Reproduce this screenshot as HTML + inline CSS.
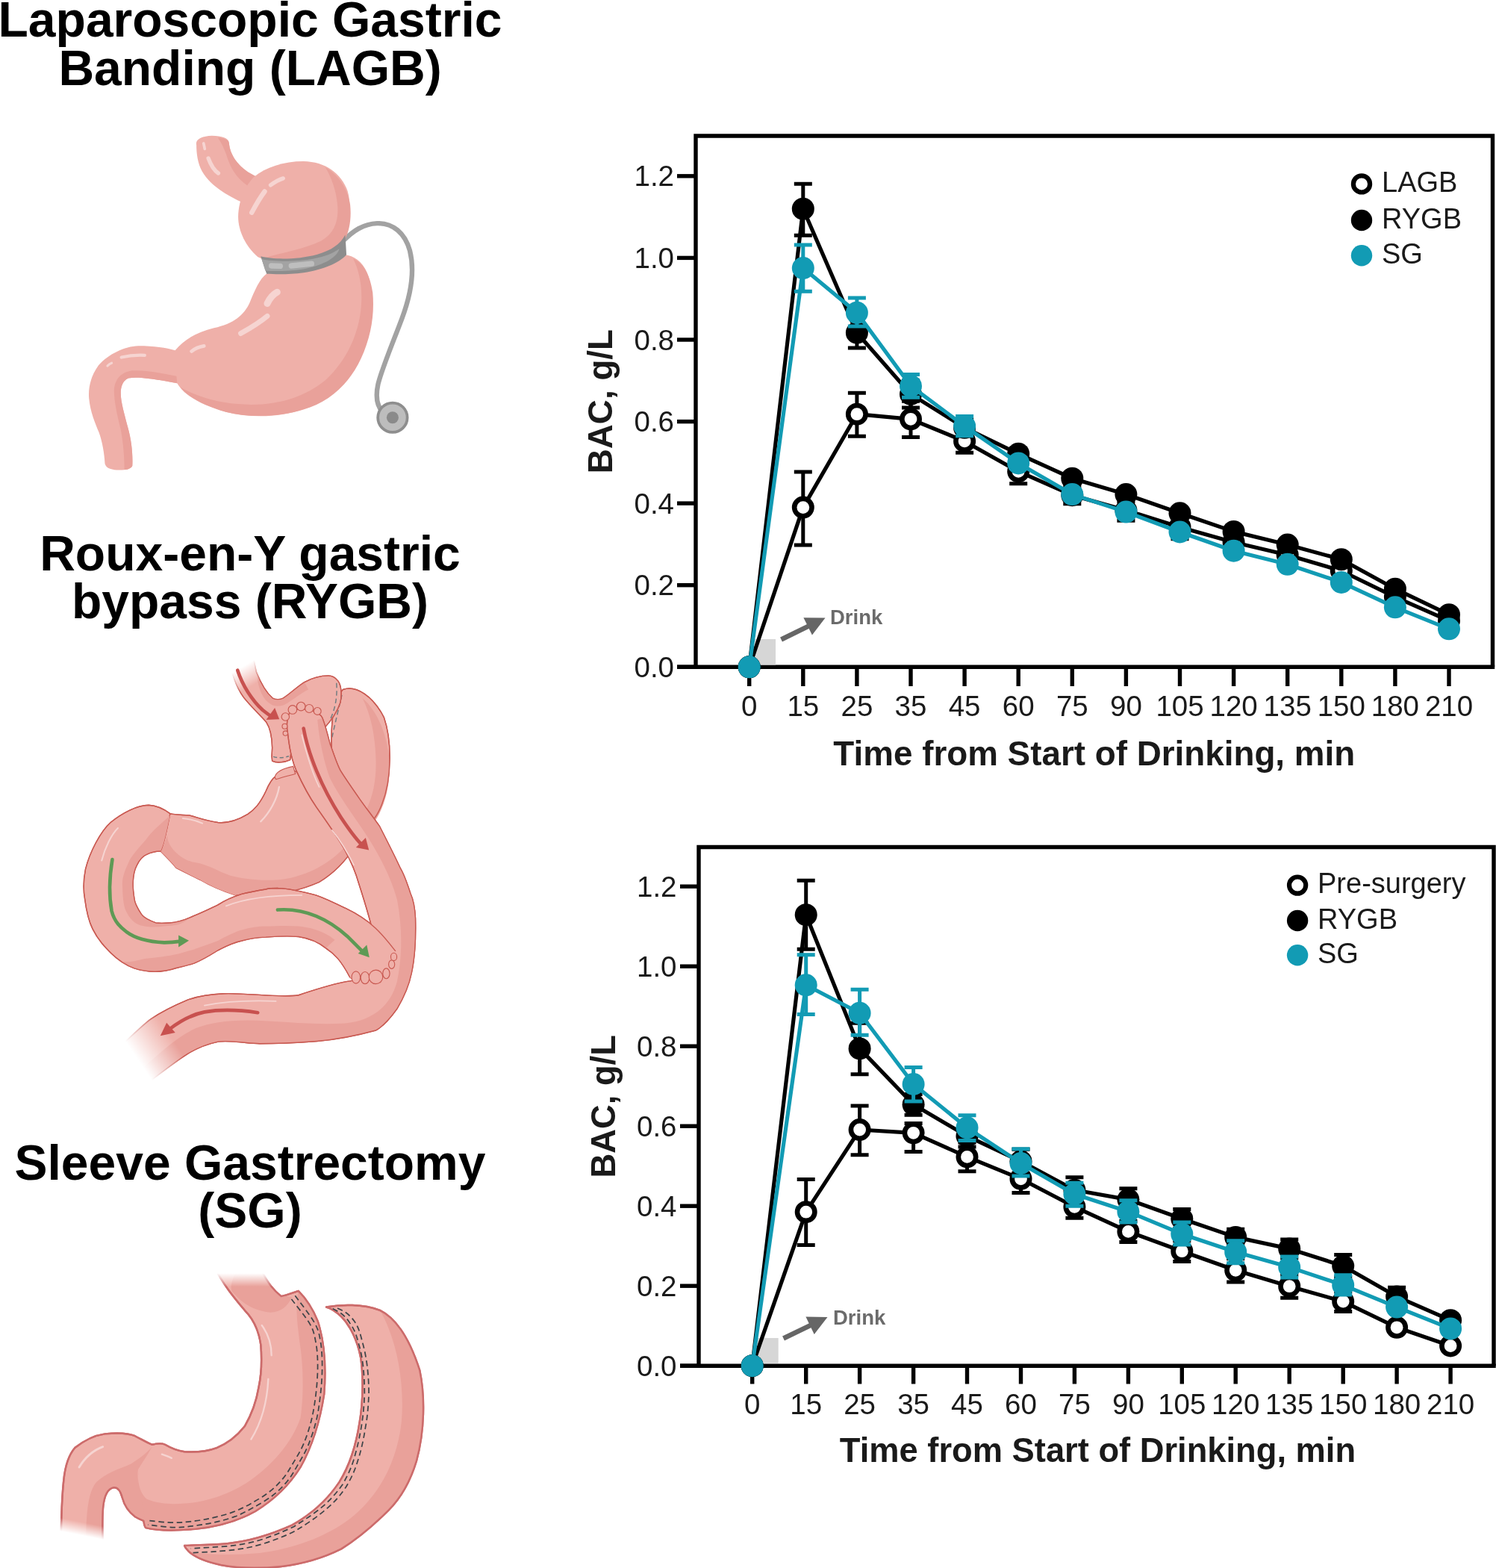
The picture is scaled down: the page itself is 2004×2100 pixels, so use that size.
<!DOCTYPE html>
<html><head><meta charset="utf-8"><title>Bariatric surgery and blood alcohol concentration</title>
<style>
html,body{margin:0;padding:0;background:#fff;}
body{width:2004px;height:2100px;overflow:hidden;}
svg{display:block;}
text{font-family:'Liberation Sans', Arial, Helvetica, sans-serif;}
.tt{font-size:66px;font-weight:700;fill:#000;}
.tk{font-size:38.5px;fill:#1a1a1a;}
.lg{font-size:38px;fill:#1a1a1a;}
.ax{font-size:45.8px;font-weight:700;fill:#1a1a1a;}
.dr{font-size:27.5px;font-weight:700;fill:#6b6b6b;}
</style></head>
<body>
<svg width="2004" height="2100" viewBox="0 0 2004 2100">
<rect width="2004" height="2100" fill="#fff"/>

<text x="335" y="48.6" text-anchor="middle" class="tt">Laparoscopic Gastric</text>
<text x="335" y="113.6" text-anchor="middle" class="tt">Banding (LAGB)</text>
<text x="335" y="763.5" text-anchor="middle" class="tt">Roux-en-Y gastric</text>
<text x="335" y="828" text-anchor="middle" class="tt">bypass (RYGB)</text>
<text x="335" y="1579.5" text-anchor="middle" class="tt">Sleeve Gastrectomy</text>
<text x="335" y="1643.7" text-anchor="middle" class="tt">(SG)</text>

<g id="lagb"><g transform="translate(100 160) scale(0.26652)">
<!-- cable -->
<path d="M1350 610 C1400 560 1450 525 1520 522 C1600 520 1660 570 1685 660 C1710 760 1690 880 1645 1000 C1600 1120 1545 1250 1525 1330 C1510 1400 1520 1450 1560 1480" fill="none" stroke="#a2a2a2" stroke-width="24" stroke-linecap="round"/>
<circle cx="1598" cy="1498" r="74" fill="#bdbdbd" stroke="#8e8e8e" stroke-width="14"/>
<circle cx="1598" cy="1498" r="30" fill="#8a8a8a"/>
<!-- esophagus -->
<path d="M612 128 C605 100 640 84 690 82 C740 82 775 95 776 118 C780 175 820 240 900 280 L940 300 L850 420 C760 380 680 330 640 260 C618 220 612 170 612 128 Z" fill="#efb0a9"/>
<path d="M720 92 C745 92 774 100 776 118 C780 175 820 240 900 280 L920 292 L880 340 C830 310 790 260 770 200 C758 160 740 120 720 92 Z" fill="#e9a19a"/>
<!-- duodenum + lower stomach -->
<path d="M965 775 C930 800 905 860 880 920 C850 985 800 1025 700 1048 C620 1068 555 1100 505 1160 C460 1148 400 1138 320 1138 C250 1140 170 1180 120 1235 C80 1290 68 1350 72 1400 C78 1470 105 1530 122 1572 C138 1615 150 1680 152 1730 C158 1755 190 1762 225 1762 C260 1762 285 1755 290 1740 C293 1680 285 1610 268 1550 C250 1480 232 1420 232 1380 C230 1340 245 1310 270 1300 C320 1290 400 1305 515 1325 C540 1370 620 1425 760 1470 C880 1500 1030 1500 1150 1455 C1290 1395 1400 1270 1460 1110 C1500 990 1505 860 1470 770 C1445 710 1400 685 1360 680 Z" fill="#efb0a9"/>
<!-- darker shading lower stomach right/bottom -->
<path d="M1400 700 C1450 720 1485 780 1498 870 C1508 980 1490 1090 1440 1200 C1380 1330 1280 1420 1150 1458 C1030 1495 880 1500 760 1470 C650 1440 560 1390 530 1345 C600 1385 700 1420 820 1430 C1000 1445 1150 1400 1260 1310 C1370 1210 1430 1070 1440 940 C1448 840 1430 760 1400 700 Z" fill="#e9a19a"/>
<path d="M290 1740 C293 1680 285 1610 268 1550 C250 1480 232 1420 232 1380 C230 1340 245 1310 270 1300 C320 1290 400 1305 515 1325 L512 1290 C420 1270 340 1258 290 1262 C230 1270 200 1310 198 1360 C198 1420 215 1490 232 1560 C245 1630 250 1700 250 1760 C270 1760 285 1752 290 1740 Z" fill="#e9a19a"/>
<!-- bulb -->
<path d="M900 290 C960 240 1050 210 1150 210 C1260 212 1340 270 1372 360 C1392 430 1385 520 1360 590 C1300 670 1200 715 1100 715 C1020 715 960 712 920 690 C860 640 822 560 822 490 C822 420 850 340 900 290 Z" fill="#efb0a9"/>
<path d="M1260 240 C1330 280 1372 350 1385 430 C1392 500 1380 560 1360 600 C1300 675 1200 715 1100 716 C1040 716 980 712 940 700 C1040 670 1160 650 1240 610 C1310 570 1330 500 1320 420 C1312 350 1290 290 1260 240 Z" fill="#e9a19a"/>
<!-- band -->
<path d="M935 688 C1000 705 1120 705 1220 678 C1290 658 1335 628 1360 580 L1366 680 C1330 720 1250 755 1150 770 C1080 780 1010 778 965 776 Z" fill="#8d8d8d"/>
<path d="M940 702 C1000 716 1120 716 1200 700 C1260 688 1300 672 1330 650 C1320 690 1260 730 1150 752 C1080 762 1010 764 958 760 Z" fill="#a3a3a3"/>
<rect x="975" y="722" width="72" height="28" rx="14" fill="#bebebe" transform="rotate(2 1011 736)"/>
<rect x="1075" y="716" width="130" height="28" rx="14" fill="#bebebe" transform="rotate(-6 1140 730)"/>
<!-- highlights -->
<g fill="none" stroke="#f6d4d1" stroke-linecap="round">
<path d="M648 120 L654 148" stroke-width="14"/>
<path d="M672 195 C685 230 700 255 722 270" stroke-width="20"/>
<path d="M985 330 C1005 315 1025 303 1048 296" stroke-width="20"/>
<path d="M890 468 C905 440 930 395 955 362" stroke-width="24"/>
<path d="M968 925 C980 900 995 880 1018 868" stroke-width="34"/>
<path d="M835 1075 C880 1050 930 1020 968 988" stroke-width="26"/>
<path d="M588 1165 C605 1150 625 1142 650 1138" stroke-width="18"/>
<path d="M235 1195 C270 1187 310 1183 352 1185" stroke-width="16"/>
<path d="M165 1238 C172 1230 180 1226 186 1224" stroke-width="12"/>
</g>
</g>
</g>
<g id="rygb"><defs>
<linearGradient id="fadeTop" gradientUnits="userSpaceOnUse" x1="775" y1="45" x2="825" y2="130">
<stop offset="0" stop-color="#fff" stop-opacity="1"/><stop offset="1" stop-color="#fff" stop-opacity="0"/>
</linearGradient>
<linearGradient id="fadeBL" gradientUnits="userSpaceOnUse" x1="285" y1="1850" x2="440" y2="1745">
<stop offset="0" stop-color="#fff" stop-opacity="1"/><stop offset="1" stop-color="#fff" stop-opacity="0"/>
</linearGradient>
</defs>
<g transform="translate(100 880) scale(0.28986)" stroke-linejoin="round">
<!-- fundus remnant -->
<path d="M1240 150 C1300 128 1380 180 1430 280 C1465 380 1468 560 1420 680 C1395 745 1350 800 1300 800 L1200 600 C1180 420 1185 300 1200 230 C1212 185 1225 165 1240 150 Z" fill="#efb0a9" stroke="#c95a52" stroke-width="4.8"/>
<path d="M1330 190 C1400 250 1445 360 1455 480 C1460 600 1430 700 1380 770 L1350 700 C1380 640 1395 560 1392 470 C1388 360 1370 270 1330 190 Z" fill="#e9a19a"/>
<path d="M1235 175 C1222 230 1205 300 1190 370" fill="none" stroke="#6f7c80" stroke-width="5" stroke-dasharray="22 14"/>
<path d="M1240 150 C1300 128 1380 180 1430 280 C1465 380 1468 560 1420 680 C1395 745 1350 800 1300 800 L1200 600 C1180 420 1185 300 1200 230 C1212 185 1225 165 1240 150 Z" fill="none" stroke="#c95a52" stroke-width="4.8"/>
<!-- body -->
<path d="M441 723 C460 728 480 729 530 731 C560 738 600 755 662 764 C700 768 740 762 800 726 C830 705 855 680 883 621 C900 580 915 560 930 550 L1010 520 L1250 700 L1290 880 C1260 930 1210 990 1130 1040 C1050 1075 950 1100 850 1094 C800 1098 770 1100 745 1101 C690 1084 635 1062 579 1029 C540 1010 500 990 469 974 C450 950 430 930 397 897 C415 860 425 800 441 723 Z" fill="#efb0a9" stroke="#c95a52" stroke-width="4.8"/>
<path d="M397 897 C430 930 450 950 469 974 C500 990 540 1010 579 1029 C635 1062 690 1084 745 1101 C770 1100 800 1098 850 1094 C950 1100 1050 1075 1130 1040 C1210 990 1260 930 1290 880 L1270 850 C1210 930 1120 990 1000 1020 C900 1040 800 1030 720 1010 C660 990 620 960 560 950 C500 940 460 900 441 869 C430 850 425 830 430 814 C420 850 410 880 397 897 Z" fill="#e9a19a"/>
<path d="M441 723 C460 728 480 729 530 731 C560 738 600 755 662 764 C700 768 740 762 800 726 C830 705 855 680 883 621 C900 580 915 560 930 550" fill="none" stroke="#c95a52" stroke-width="4.8"/>
<path d="M1290 880 C1260 930 1210 990 1130 1040 C1050 1075 950 1100 850 1094 C800 1098 770 1100 745 1101" fill="none" stroke="#c95a52" stroke-width="4.8"/>
<!-- BP limb / duodenum -->
<path d="M441 723 C410 700 380 686 342 684 C290 684 220 720 166 764 C120 805 70 900 50 980 C40 1030 40 1080 47 1118 C55 1180 70 1230 83 1256 C110 1310 140 1340 166 1366 C200 1400 240 1425 276 1438 C340 1458 400 1460 469 1437 C500 1430 520 1425 552 1415 C600 1395 630 1375 662 1355 C700 1335 740 1318 772 1311 C810 1300 850 1295 883 1294 C940 1290 990 1288 1035 1292 C1090 1300 1130 1320 1161 1345 C1200 1370 1230 1400 1272 1479 C1300 1505 1380 1510 1440 1480 C1480 1450 1495 1400 1483 1359 C1460 1330 1430 1290 1391 1253 C1350 1215 1300 1184 1250 1160 C1200 1135 1150 1112 1115 1100 C1060 1085 1000 1070 940 1068 C900 1068 883 1073 883 1073 C840 1080 800 1088 772 1095 C740 1105 700 1120 662 1145 C620 1165 590 1180 552 1195 C520 1210 480 1225 441 1228 C410 1230 390 1230 375 1228 C340 1215 320 1205 309 1189 C290 1160 278 1140 276 1118 C270 1080 268 1060 270 1035 C272 1000 278 980 287 963 C300 935 315 920 331 913 C350 903 375 897 397 897 C415 860 425 800 441 723 Z" fill="#efb0a9" stroke="#c95a52" stroke-width="4.8"/>
<path d="M441 731 C400 770 360 800 331 842 C290 890 260 920 248 952 C225 1000 218 1030 221 1062 C222 1110 226 1150 237 1173 C255 1210 275 1230 303 1239 C340 1250 380 1248 414 1244 C440 1242 460 1240 480 1236 C520 1220 530 1205 552 1195 C520 1210 480 1225 441 1228 C410 1230 390 1230 375 1228 C340 1215 320 1205 309 1189 C290 1160 278 1140 276 1118 C270 1080 268 1060 270 1035 C272 1000 278 980 287 963 C300 935 315 920 331 913 C350 903 375 897 397 897 C415 860 425 800 441 731 Z" fill="#e9a19a"/>
<path d="M200 1400 C240 1420 290 1400 331 1393 C400 1385 450 1380 497 1366 C560 1350 610 1330 662 1311 C700 1290 740 1270 772 1261 C810 1250 850 1244 883 1244 C940 1242 990 1240 1035 1244 C1090 1250 1130 1262 1180 1290 C1220 1320 1260 1350 1300 1380 L1272 1479 C1230 1400 1200 1370 1161 1345 C1130 1320 1090 1300 1035 1292 C990 1288 940 1290 883 1294 C850 1295 810 1300 772 1311 C740 1318 700 1335 662 1355 C630 1375 600 1395 552 1415 C520 1425 500 1430 469 1437 C400 1460 340 1458 276 1438 C250 1430 225 1418 200 1400 Z" fill="#e9a19a"/>
<path d="M441 723 C410 700 380 686 342 684 C290 684 220 720 166 764 C120 805 70 900 50 980 C40 1030 40 1080 47 1118 C55 1180 70 1230 83 1256 C110 1310 140 1340 166 1366 C200 1400 240 1425 276 1438 C340 1458 400 1460 469 1437 C500 1430 520 1425 552 1415 C600 1395 630 1375 662 1355 C700 1335 740 1318 772 1311 C810 1300 850 1295 883 1294 C940 1290 990 1288 1035 1292 C1090 1300 1130 1320 1161 1345 C1200 1370 1230 1400 1272 1479 C1300 1505 1380 1510 1440 1480 C1480 1450 1495 1400 1483 1359 C1460 1330 1430 1290 1391 1253 C1350 1215 1300 1184 1250 1160 C1200 1135 1150 1112 1115 1100 C1060 1085 1000 1070 940 1068 C900 1068 883 1073 883 1073 C840 1080 800 1088 772 1095 C740 1105 700 1120 662 1145 C620 1165 590 1180 552 1195 C520 1210 480 1225 441 1228 C410 1230 390 1230 375 1228 C340 1215 320 1205 309 1189 C290 1160 278 1140 276 1118 C270 1080 268 1060 270 1035 C272 1000 278 980 287 963 C300 935 315 920 331 913 C350 903 375 897 397 897" fill="none" stroke="#c95a52" stroke-width="4.8"/>
<!-- pouch + esophagus -->
<path d="M690 -90 L712 0 C722 60 740 130 780 185 C815 230 860 270 885 300 C905 330 912 370 913 419 L911 458 C912 470 913 478 913 480 C930 490 970 488 996 475 L1000 440 C1060 400 1110 370 1151 331 C1180 300 1210 265 1228 210 C1236 170 1232 130 1217 110 C1205 95 1190 86 1173 86 C1140 86 1100 95 1062 116 C1030 135 990 175 963 190 C945 198 930 197 915 190 C880 160 860 120 840 70 L825 0 L805 -90 Z" fill="#efb0a9" stroke="#c95a52" stroke-width="4.8"/>
<path d="M840 60 C860 120 880 160 915 190 C930 197 945 198 963 190 C990 175 1030 135 1062 116 L1080 150 C1040 170 1000 205 970 220 C940 232 915 228 895 210 C860 180 845 130 840 60 Z" fill="#e9a19a"/>
<path d="M1210 120 C1215 180 1205 240 1180 290" fill="none" stroke="#6f7c80" stroke-width="5" stroke-dasharray="22 14"/>
<path d="M918 460 C940 468 965 466 990 458" fill="none" stroke="#6f7c80" stroke-width="5" stroke-dasharray="18 12"/>
<path d="M690 -90 L712 0 C722 60 740 130 780 185 C815 230 860 270 885 300 C905 330 912 370 913 419 L911 458 C912 470 913 478 913 480 C930 490 970 488 996 475 L1000 440 C1060 400 1110 370 1151 331 C1180 300 1210 265 1228 210 C1236 170 1232 130 1217 110 C1205 95 1190 86 1173 86 C1140 86 1100 95 1062 116 C1030 135 990 175 963 190 C945 198 930 197 915 190 C880 160 860 120 840 70 L825 0 L805 -90 Z" fill="none" stroke="#c95a52" stroke-width="4.8"/>
<!-- stump of remnant body top -->
<path d="M925 555 C930 530 960 515 1010 505 L1020 540 C990 548 960 555 930 565 Z" fill="#efb0a9" stroke="#c95a52" stroke-width="4"/>
<!-- roux limb + common channel -->
<path id="rouxcc" d="M985 353 C990 400 1000 470 1024 524 C1045 570 1080 640 1118 695 C1150 740 1220 840 1250 894 C1280 950 1300 1000 1313 1046 C1340 1130 1368 1217 1385 1300 C1395 1360 1400 1420 1380 1470 C1340 1485 1300 1492 1272 1497 C1200 1508 1100 1540 1035 1562 C950 1575 780 1550 688 1555 C620 1558 570 1566 520 1585 C460 1610 400 1640 353 1672 C320 1695 280 1734 200 1810 L300 2000 C330 1975 360 1950 387 1930 C420 1905 480 1860 521 1834 C560 1810 600 1790 664 1777 C730 1770 800 1786 855 1786 C950 1786 1050 1780 1120 1775 C1200 1768 1300 1750 1391 1725 C1430 1705 1460 1667 1490 1625 C1520 1575 1545 1520 1557 1460 C1570 1400 1578 1320 1575 1207 C1572 1150 1565 1120 1552 1092 C1535 1040 1520 1000 1506 977 C1480 920 1450 862 1410 783 C1380 740 1349 701 1320 660 C1283 607 1250 560 1228 524 C1210 490 1195 441 1180 400 C1170 360 1160 320 1145 281 C1130 250 1050 226 1000 248 C980 270 978 320 985 353 Z" fill="#efb0a9" stroke="#c95a52" stroke-width="4.8"/>
<path d="M300 2000 C330 1975 360 1950 387 1930 C420 1905 480 1860 521 1834 C560 1810 600 1790 664 1777 C730 1770 800 1786 855 1786 C950 1786 1050 1780 1120 1775 C1200 1768 1300 1750 1391 1725 C1430 1705 1460 1667 1490 1625 C1520 1575 1545 1520 1557 1460 C1570 1400 1578 1320 1575 1207 C1572 1150 1565 1120 1552 1092 C1535 1040 1520 1000 1506 977 C1480 920 1450 862 1410 783 C1380 740 1349 701 1320 660 C1283 607 1250 560 1228 524 C1210 490 1195 441 1180 400 C1170 360 1160 320 1145 281 L1122 290 C1130 380 1150 480 1180 560 C1220 640 1280 720 1340 810 C1400 900 1460 1010 1490 1120 C1515 1250 1515 1380 1490 1500 C1460 1610 1380 1680 1250 1692 C1100 1702 950 1680 800 1678 C700 1678 620 1690 560 1715 C480 1750 400 1820 250 1960 Z" fill="#e9a19a"/>
<path d="M985 353 C990 400 1000 470 1024 524 C1045 570 1080 640 1118 695 C1150 740 1220 840 1250 894 C1280 950 1300 1000 1313 1046 C1340 1130 1368 1217 1385 1300 C1395 1360 1400 1420 1380 1470 C1340 1485 1300 1492 1272 1497 C1200 1508 1100 1540 1035 1562 C950 1575 780 1550 688 1555 C620 1558 570 1566 520 1585 C460 1610 400 1640 353 1672 C320 1695 280 1734 200 1810 L300 2000 C330 1975 360 1950 387 1930 C420 1905 480 1860 521 1834 C560 1810 600 1790 664 1777 C730 1770 800 1786 855 1786 C950 1786 1050 1780 1120 1775 C1200 1768 1300 1750 1391 1725 C1430 1705 1460 1667 1490 1625 C1520 1575 1545 1520 1557 1460 C1570 1400 1578 1320 1575 1207 C1572 1150 1565 1120 1552 1092 C1535 1040 1520 1000 1506 977 C1480 920 1450 862 1410 783 C1380 740 1349 701 1320 660 C1283 607 1250 560 1228 524 C1210 490 1195 441 1180 400 C1170 360 1160 320 1145 281 C1130 250 1050 226 1000 248 C980 270 978 320 985 353 Z" fill="none" stroke="#c95a52" stroke-width="4.8"/>
<path d="M1050 360 C1080 480 1100 540 1130 600" fill="none" stroke="#f6d4d1" stroke-width="6" stroke-linecap="round"/>
<path d="M1190 800 C1230 850 1260 900 1290 960" fill="none" stroke="#f6d4d1" stroke-width="6" stroke-linecap="round"/>
<!-- BP limb end (over roux) -->
<path d="M1161 1345 C1200 1370 1230 1400 1272 1479 C1300 1505 1380 1510 1440 1480 C1480 1450 1495 1400 1483 1359 C1460 1330 1430 1290 1391 1253 C1350 1215 1300 1184 1250 1160 L1220 1290 Z" fill="#efb0a9"/>
<path d="M1272 1479 C1230 1400 1200 1370 1161 1345" fill="none" stroke="#c95a52" stroke-width="4.8"/>
<path d="M1483 1359 C1460 1330 1430 1290 1391 1253 C1350 1215 1300 1184 1250 1160" fill="none" stroke="#c95a52" stroke-width="4.8"/>
<!-- anastomosis bumps -->
<g fill="#efb0a9" stroke="#c95a52" stroke-width="4">
<circle cx="974" cy="276" r="18"/><circle cx="1007" cy="243" r="20"/><circle cx="1046" cy="228" r="20"/><circle cx="1084" cy="238" r="19"/><circle cx="1122" cy="250" r="17"/>
<circle cx="971" cy="320" r="12"/><circle cx="974" cy="352" r="11"/>
<ellipse cx="1300" cy="1480" rx="20" ry="28"/><ellipse cx="1342" cy="1482" rx="20" ry="28"/><circle cx="1392" cy="1478" r="32"/><ellipse cx="1440" cy="1462" rx="16" ry="24"/><ellipse cx="1465" cy="1420" rx="14" ry="20"/><ellipse cx="1475" cy="1385" rx="14" ry="18"/>
</g>
<!-- highlights -->
<g fill="none" stroke="#f6d4d1" stroke-linecap="round">
<path d="M945 600 C935 660 900 720 860 760" stroke-width="8"/>
<path d="M500 745 C530 748 560 755 590 768" stroke-width="7"/>
<path d="M200 790 C170 820 140 880 125 940" stroke-width="7"/>
<path d="M700 1150 C800 1110 920 1100 1050 1100" stroke-width="6"/>
<path d="M600 1610 C700 1590 800 1585 930 1590" stroke-width="6"/>
</g>
<!-- fades -->
<path d="M600 -100 L950 -100 L950 60 L800 230 L600 230 Z" fill="url(#fadeTop)"/>
<path d="M80 1760 L380 1610 L600 1900 L330 2120 Z" fill="url(#fadeBL)"/>
<!-- arrows -->
<g fill="none" stroke-linecap="round">
<path d="M753 61 C775 130 820 200 869 245 C890 262 905 272 915 278" stroke="#c8514f" stroke-width="16"/>
<path d="M1058 330 C1080 450 1140 600 1230 740 C1270 800 1300 840 1325 865" stroke="#c8514f" stroke-width="16"/>
<path d="M846 1643 C760 1630 664 1629 600 1640 C540 1652 490 1680 440 1718" stroke="#c8514f" stroke-width="16"/>
<path d="M174 935 C160 1020 158 1100 171 1173 C185 1230 221 1255 240 1270 C280 1300 330 1315 414 1319 C440 1319 470 1316 490 1313" stroke="#5e9a55" stroke-width="16"/>
<path d="M938 1168 C1050 1160 1160 1200 1260 1290 C1290 1320 1310 1340 1330 1360" stroke="#5e9a55" stroke-width="16"/>
</g>
<g stroke="none">
<path d="M946 287 L885 290 L925 235 Z" fill="#c8514f"/>
<path d="M1360 892 L1300 880 L1345 835 Z" fill="#c8514f"/>
<path d="M396 1750 L425 1690 L465 1735 Z" fill="#c8514f"/>
<path d="M528 1310 L480 1285 L480 1340 Z" fill="#5e9a55"/>
<path d="M1362 1388 L1310 1370 L1350 1330 Z" fill="#5e9a55"/>
</g>
</g>
</g>
<g id="sg"><defs>
<linearGradient id="sgFadeTop" gradientUnits="userSpaceOnUse" x1="0" y1="88" x2="0" y2="150">
<stop offset="0" stop-color="#fff" stop-opacity="1"/><stop offset="1" stop-color="#fff" stop-opacity="0"/>
</linearGradient>
<linearGradient id="sgFadeBot" gradientUnits="userSpaceOnUse" x1="160" y1="1305" x2="172" y2="1245">
<stop offset="0" stop-color="#fff" stop-opacity="1"/><stop offset="1" stop-color="#fff" stop-opacity="0"/>
</linearGradient>
</defs>
<g transform="translate(60 1680) scale(0.28785)" stroke-linejoin="round">
<!-- sleeve -->
<path d="M790 60 C830 140 880 200 930 260 C970 300 995 350 1005 420 C1010 480 1008 560 995 620 C985 680 965 740 930 800 C890 850 850 880 800 900 C760 915 720 922 650 918 C610 912 585 900 560 885 C545 878 530 878 500 885 C480 878 450 860 420 845 C390 832 350 828 280 835 C230 842 180 868 140 900 C110 935 95 980 88 1050 C80 1120 76 1200 75 1380 L270 1380 C268 1300 266 1220 272 1170 C278 1120 295 1090 320 1085 C340 1082 352 1100 360 1130 C368 1160 385 1195 420 1220 C440 1232 455 1238 460 1240 C462 1255 465 1268 470 1272 C520 1285 600 1287 700 1278 C800 1268 900 1240 980 1195 C1070 1140 1140 1070 1190 990 C1240 900 1280 780 1300 650 C1310 520 1300 400 1270 310 C1250 260 1215 205 1180 170 C1150 180 1125 190 1100 195 C1070 170 1040 140 1000 60 Z" fill="#efb0a9" stroke="#cc6b6b" stroke-width="8.5"/>
<!-- sleeve dark shading -->
<path d="M1180 170 C1215 205 1250 260 1270 310 C1300 400 1310 520 1300 650 C1280 780 1240 900 1190 990 C1140 1070 1070 1140 980 1195 C900 1240 800 1268 700 1278 C600 1287 520 1285 470 1272 C465 1268 462 1255 460 1240 C440 1232 420 1220 400 1190 C420 1120 435 1060 435 1014 C430 1050 440 1110 475 1139 C540 1165 600 1162 650 1159 C780 1150 880 1100 938 1064 C1050 990 1150 880 1190 760 C1205 660 1205 520 1185 400 C1175 320 1165 240 1180 170 Z" fill="#e9a19a"/>
<path d="M270 1380 C268 1300 266 1220 272 1170 C278 1120 295 1090 320 1085 C340 1082 352 1100 360 1130 C368 1160 385 1195 420 1220 C440 1232 455 1238 460 1240 C470 1200 450 1150 440 1100 C432 1050 430 1020 435 1000 C460 960 480 930 500 894 C470 930 440 950 400 975 C340 1000 280 1020 240 1060 C200 1110 192 1200 190 1380 Z" fill="#e9a19a"/>
<path d="M870 170 C920 230 970 260 1050 270 C1100 270 1130 240 1150 200 C1120 190 1110 195 1100 195 C1070 170 1040 140 1000 60 L900 60 C880 100 860 140 870 170 Z" fill="#e9a19a"/>
<path d="M790 60 C830 140 880 200 930 260 C970 300 995 350 1005 420 C1010 480 1008 560 995 620 C985 680 965 740 930 800 C890 850 850 880 800 900 C760 915 720 922 650 918 C610 912 585 900 560 885 C545 878 530 878 500 885 C480 878 450 860 420 845 C390 832 350 828 280 835 C230 842 180 868 140 900 C110 935 95 980 88 1050 C80 1120 76 1200 75 1380 L270 1380 C268 1300 266 1220 272 1170 C278 1120 295 1090 320 1085 C340 1082 352 1100 360 1130 C368 1160 385 1195 420 1220 C440 1232 455 1238 460 1240 C462 1255 465 1268 470 1272 C520 1285 600 1287 700 1278 C800 1268 900 1240 980 1195 C1070 1140 1140 1070 1190 990 C1240 900 1280 780 1300 650 C1310 520 1300 400 1270 310 C1250 260 1215 205 1180 170 C1150 180 1125 190 1100 195 C1070 170 1040 140 1000 60 Z" fill="none" stroke="#cc6b6b" stroke-width="8.5"/>
<!-- staple lines sleeve -->
<g fill="none" stroke="#3d4448" stroke-width="6" stroke-dasharray="26 16">
<path d="M1165 192 C1180 213 1235 282 1255 318 C1275 354 1277 371 1283 405 C1289 439 1291 479 1291 520 C1291 561 1288 608 1283 650 C1278 692 1273 735 1263 775 C1253 815 1239 856 1225 890 C1211 924 1193 952 1177 980 C1161 1008 1148 1032 1128 1056 C1108 1080 1086 1102 1060 1122 C1034 1142 999 1162 970 1178 C941 1194 914 1209 884 1220 C854 1231 824 1239 793 1246 C762 1253 732 1258 700 1262 C668 1266 637 1271 600 1270 C563 1269 500 1260 480 1258"/>
<path d="M1148 208 C1162 228 1216 292 1235 326 C1254 360 1256 382 1262 414 C1268 446 1270 481 1270 520 C1270 559 1267 606 1262 647 C1257 688 1251 728 1242 766 C1233 804 1220 844 1206 878 C1192 912 1174 940 1158 967 C1142 994 1129 1018 1110 1041 C1091 1064 1071 1084 1046 1104 C1021 1124 986 1144 958 1160 C930 1176 904 1188 875 1199 C846 1210 816 1217 787 1224 C758 1231 731 1236 700 1240 C669 1244 637 1248 600 1248 C563 1248 500 1240 480 1238"/>
</g>
<!-- excised part -->
<path d="M1310 245 C1380 232 1480 230 1560 260 C1640 300 1700 400 1745 540 C1770 660 1768 820 1730 960 C1700 1060 1650 1140 1600 1190 C1530 1260 1460 1320 1380 1370 C1300 1410 1200 1440 1100 1452 C1000 1462 900 1460 820 1445 C760 1432 700 1410 670 1382 C660 1372 652 1362 650 1355 C700 1352 800 1350 850 1345 C950 1335 1050 1305 1150 1260 C1230 1215 1310 1150 1370 1060 C1420 980 1450 880 1465 780 C1482 680 1482 560 1470 480 C1455 400 1420 330 1380 290 C1360 270 1335 252 1310 245 Z" fill="#efb0a9" stroke="#cc6b6b" stroke-width="8.5"/>
<path d="M1560 260 C1640 300 1700 400 1745 540 C1770 660 1768 820 1730 960 C1700 1060 1650 1140 1600 1190 C1530 1260 1460 1320 1380 1370 C1300 1410 1200 1440 1100 1452 C1000 1462 900 1460 820 1445 C760 1432 700 1410 670 1382 C760 1400 880 1400 1000 1390 C1150 1370 1300 1320 1420 1230 C1560 1120 1640 960 1660 780 C1675 600 1640 400 1560 260 Z" fill="#e9a19a"/>
<path d="M1310 245 C1380 232 1480 230 1560 260 C1640 300 1700 400 1745 540 C1770 660 1768 820 1730 960 C1700 1060 1650 1140 1600 1190 C1530 1260 1460 1320 1380 1370 C1300 1410 1200 1440 1100 1452 C1000 1462 900 1460 820 1445 C760 1432 700 1410 670 1382 C660 1372 652 1362 650 1355 C700 1352 800 1350 850 1345 C950 1335 1050 1305 1150 1260 C1230 1215 1310 1150 1370 1060 C1420 980 1450 880 1465 780 C1482 680 1482 560 1470 480 C1455 400 1420 330 1380 290 C1360 270 1335 252 1310 245 Z" fill="none" stroke="#cc6b6b" stroke-width="8.5"/>
<g fill="none" stroke="#3d4448" stroke-width="6" stroke-dasharray="26 16">
<path d="M1340 252 C1370 268 1395 280 1420 320 C1440 350 1447 364 1462 420 C1480 480 1488 560 1488 650 C1485 720 1480 760 1473 803 C1460 880 1445 930 1437 958 C1420 1010 1400 1045 1385 1072 C1350 1120 1320 1150 1293 1173 C1250 1210 1200 1240 1160 1266 C1110 1290 1060 1310 1005 1328 C950 1345 900 1352 850 1358 C790 1362 730 1366 680 1368"/>
<path d="M1362 250 C1392 265 1410 270 1440 310 C1460 340 1465 357 1480 415 C1498 480 1508 560 1508 650 C1505 720 1500 765 1492 806 C1480 885 1465 935 1455 965 C1438 1020 1418 1055 1400 1085 C1365 1135 1335 1165 1306 1188 C1262 1226 1212 1258 1170 1284 C1120 1310 1068 1330 1010 1348 C955 1365 905 1372 850 1378 C790 1383 735 1386 690 1388"/>
</g>
<!-- highlights -->
<g fill="none" stroke="#f6d4d1" stroke-linecap="round">
<path d="M1010 330 C1040 370 1055 420 1055 470" stroke-width="8"/>
<path d="M1040 580 C1035 680 1010 780 960 860" stroke-width="8"/>
<path d="M270 895 C230 910 190 940 160 990" stroke-width="10"/>
<path d="M545 930 C560 935 575 940 590 948" stroke-width="8"/>
</g>
<!-- fades -->
<path d="M760 40 L1060 40 L1060 200 L760 200 Z" fill="url(#sgFadeTop)"/>
<path d="M40 1180 L320 1180 L320 1420 L40 1420 Z" fill="url(#sgFadeBot)"/>
</g>
</g>
<g id="chart1"><path d="M932 893.3V182H1999.5V893.3" fill="none" stroke="#000" stroke-width="5.4"/>
<path d="M907 893.3H2002.2" stroke="#000" stroke-width="5.6"/>
<path d="M907 893.3H932" stroke="#000" stroke-width="5.4"/>
<text x="903" y="906.8" text-anchor="end" class="tk">0.0</text>
<path d="M907 783.7H932" stroke="#000" stroke-width="5.4"/>
<text x="903" y="797.2" text-anchor="end" class="tk">0.2</text>
<path d="M907 674.1H932" stroke="#000" stroke-width="5.4"/>
<text x="903" y="687.6" text-anchor="end" class="tk">0.4</text>
<path d="M907 564.6H932" stroke="#000" stroke-width="5.4"/>
<text x="903" y="578.1" text-anchor="end" class="tk">0.6</text>
<path d="M907 455H932" stroke="#000" stroke-width="5.4"/>
<text x="903" y="468.5" text-anchor="end" class="tk">0.8</text>
<path d="M907 345.4H932" stroke="#000" stroke-width="5.4"/>
<text x="903" y="358.9" text-anchor="end" class="tk">1.0</text>
<path d="M907 235.8H932" stroke="#000" stroke-width="5.4"/>
<text x="903" y="249.3" text-anchor="end" class="tk">1.2</text>
<path d="M1003.7 893.3V919" stroke="#000" stroke-width="5.4"/>
<text x="1003.7" y="958.5" text-anchor="middle" class="tk">0</text>
<path d="M1075.8 893.3V919" stroke="#000" stroke-width="5.4"/>
<text x="1075.8" y="958.5" text-anchor="middle" class="tk">15</text>
<path d="M1147.9 893.3V919" stroke="#000" stroke-width="5.4"/>
<text x="1147.9" y="958.5" text-anchor="middle" class="tk">25</text>
<path d="M1220 893.3V919" stroke="#000" stroke-width="5.4"/>
<text x="1220" y="958.5" text-anchor="middle" class="tk">35</text>
<path d="M1292.1 893.3V919" stroke="#000" stroke-width="5.4"/>
<text x="1292.1" y="958.5" text-anchor="middle" class="tk">45</text>
<path d="M1364.2 893.3V919" stroke="#000" stroke-width="5.4"/>
<text x="1364.2" y="958.5" text-anchor="middle" class="tk">60</text>
<path d="M1436.3 893.3V919" stroke="#000" stroke-width="5.4"/>
<text x="1436.3" y="958.5" text-anchor="middle" class="tk">75</text>
<path d="M1508.4 893.3V919" stroke="#000" stroke-width="5.4"/>
<text x="1508.4" y="958.5" text-anchor="middle" class="tk">90</text>
<path d="M1580.5 893.3V919" stroke="#000" stroke-width="5.4"/>
<text x="1580.5" y="958.5" text-anchor="middle" class="tk">105</text>
<path d="M1652.6 893.3V919" stroke="#000" stroke-width="5.4"/>
<text x="1652.6" y="958.5" text-anchor="middle" class="tk">120</text>
<path d="M1724.7 893.3V919" stroke="#000" stroke-width="5.4"/>
<text x="1724.7" y="958.5" text-anchor="middle" class="tk">135</text>
<path d="M1796.8 893.3V919" stroke="#000" stroke-width="5.4"/>
<text x="1796.8" y="958.5" text-anchor="middle" class="tk">150</text>
<path d="M1868.9 893.3V919" stroke="#000" stroke-width="5.4"/>
<text x="1868.9" y="958.5" text-anchor="middle" class="tk">180</text>
<path d="M1941 893.3V919" stroke="#000" stroke-width="5.4"/>
<text x="1941" y="958.5" text-anchor="middle" class="tk">210</text>
<text x="1465.8" y="1025.3" text-anchor="middle" class="ax" style="font-size:45.8px">Time from Start of Drinking, min</text>
<text transform="translate(819.8 537.6) rotate(-90)" x="0" y="0" text-anchor="middle" class="ax" style="font-size:45.8px">BAC, g/L</text>
<rect x="1011.3" y="856" width="27.7" height="34.5" fill="#d6d6d6"/>
<path d="M1046.5 856.5L1084 838.1" stroke="#666" stroke-width="6.5"/>
<path d="M1105.5 827.5L1087.9 850.6L1076.4 827.3Z" fill="#666"/>
<text x="1112" y="836.3" class="dr">Drink</text>
<path d="M1075.8 632V730M1063.8 632H1087.8M1063.8 730H1087.8" stroke="#000" stroke-width="5" fill="none"/>
<path d="M1147.9 526.2V584.3M1135.9 526.2H1159.9M1135.9 584.3H1159.9" stroke="#000" stroke-width="5" fill="none"/>
<path d="M1220 537.2V585.4M1208 537.2H1232M1208 585.4H1232" stroke="#000" stroke-width="5" fill="none"/>
<path d="M1292.1 575.5V606.2M1280.1 575.5H1304.1M1280.1 606.2H1304.1" stroke="#000" stroke-width="5" fill="none"/>
<path d="M1364.2 615V647.8M1352.2 615H1376.2M1352.2 647.8H1376.2" stroke="#000" stroke-width="5" fill="none"/>
<path d="M1436.3 651.7V674.7M1424.3 651.7H1448.3M1424.3 674.7H1448.3" stroke="#000" stroke-width="5" fill="none"/>
<path d="M1508.4 671.4V697.2M1496.4 671.4H1520.4M1496.4 697.2H1520.4" stroke="#000" stroke-width="5" fill="none"/>
<path d="M1580.5 693.3V721.8M1568.5 693.3H1592.5M1568.5 721.8H1592.5" stroke="#000" stroke-width="5" fill="none"/>
<path d="M1652.6 715.2V737.1M1640.6 715.2H1664.6M1640.6 737.1H1664.6" stroke="#000" stroke-width="5" fill="none"/>
<path d="M1724.7 732.8V753.6M1712.7 732.8H1736.7M1712.7 753.6H1736.7" stroke="#000" stroke-width="5" fill="none"/>
<path d="M1796.8 755.2V773.9M1784.8 755.2H1808.8M1784.8 773.9H1808.8" stroke="#000" stroke-width="5" fill="none"/>
<path d="M1868.9 792.5V806.7M1856.9 792.5H1880.9M1856.9 806.7H1880.9" stroke="#000" stroke-width="5" fill="none"/>
<path d="M1941 825.9V836.9M1929 825.9H1953M1929 836.9H1953" stroke="#000" stroke-width="5" fill="none"/>
<path d="M1003.7 893.3 L1075.8 679.6 L1147.9 554.7 L1220 561.3 L1292.1 590.9 L1364.2 631.4 L1436.3 663.2 L1508.4 683.5 L1580.5 705.9 L1652.6 726.2 L1724.7 743.2 L1796.8 764.5 L1868.9 799.6 L1941 831.4" fill="none" stroke="#000" stroke-width="5.2" stroke-linejoin="round"/>
<circle cx="1003.7" cy="893.3" r="11.7" fill="#fff" stroke="#000" stroke-width="6.6"/>
<circle cx="1075.8" cy="679.6" r="11.7" fill="#fff" stroke="#000" stroke-width="6.6"/>
<circle cx="1147.9" cy="554.7" r="11.7" fill="#fff" stroke="#000" stroke-width="6.6"/>
<circle cx="1220" cy="561.3" r="11.7" fill="#fff" stroke="#000" stroke-width="6.6"/>
<circle cx="1292.1" cy="590.9" r="11.7" fill="#fff" stroke="#000" stroke-width="6.6"/>
<circle cx="1364.2" cy="631.4" r="11.7" fill="#fff" stroke="#000" stroke-width="6.6"/>
<circle cx="1436.3" cy="663.2" r="11.7" fill="#fff" stroke="#000" stroke-width="6.6"/>
<circle cx="1508.4" cy="683.5" r="11.7" fill="#fff" stroke="#000" stroke-width="6.6"/>
<circle cx="1580.5" cy="705.9" r="11.7" fill="#fff" stroke="#000" stroke-width="6.6"/>
<circle cx="1652.6" cy="726.2" r="11.7" fill="#fff" stroke="#000" stroke-width="6.6"/>
<circle cx="1724.7" cy="743.2" r="11.7" fill="#fff" stroke="#000" stroke-width="6.6"/>
<circle cx="1796.8" cy="764.5" r="11.7" fill="#fff" stroke="#000" stroke-width="6.6"/>
<circle cx="1868.9" cy="799.6" r="11.7" fill="#fff" stroke="#000" stroke-width="6.6"/>
<circle cx="1941" cy="831.4" r="11.7" fill="#fff" stroke="#000" stroke-width="6.6"/>
<path d="M1075.8 246.2V315.3M1063.8 246.2H1087.8M1063.8 315.3H1087.8" stroke="#000" stroke-width="5" fill="none"/>
<path d="M1147.9 424.8V465.9M1135.9 424.8H1159.9M1135.9 465.9H1159.9" stroke="#000" stroke-width="5" fill="none"/>
<path d="M1220 509.8V545.9M1208 509.8H1232M1208 545.9H1232" stroke="#000" stroke-width="5" fill="none"/>
<path d="M1292.1 561.8V583.7M1280.1 561.8H1304.1M1280.1 583.7H1304.1" stroke="#000" stroke-width="5" fill="none"/>
<path d="M1364.2 600.2V615.5M1352.2 600.2H1376.2M1352.2 615.5H1376.2" stroke="#000" stroke-width="5" fill="none"/>
<path d="M1436.3 634.1V647.3M1424.3 634.1H1448.3M1424.3 647.3H1448.3" stroke="#000" stroke-width="5" fill="none"/>
<path d="M1508.4 656.1V668.1M1496.4 656.1H1520.4M1496.4 668.1H1520.4" stroke="#000" stroke-width="5" fill="none"/>
<path d="M1580.5 681.8V692.8M1568.5 681.8H1592.5M1568.5 692.8H1592.5" stroke="#000" stroke-width="5" fill="none"/>
<path d="M1652.6 707V716.9M1640.6 707H1664.6M1640.6 716.9H1664.6" stroke="#000" stroke-width="5" fill="none"/>
<path d="M1724.7 725.1V733.9M1712.7 725.1H1736.7M1712.7 733.9H1736.7" stroke="#000" stroke-width="5" fill="none"/>
<path d="M1796.8 744.8V753.6M1784.8 744.8H1808.8M1784.8 753.6H1808.8" stroke="#000" stroke-width="5" fill="none"/>
<path d="M1868.9 784.8V792.5M1856.9 784.8H1880.9M1856.9 792.5H1880.9" stroke="#000" stroke-width="5" fill="none"/>
<path d="M1941 819.9V826.5M1929 819.9H1953M1929 826.5H1953" stroke="#000" stroke-width="5" fill="none"/>
<path d="M1003.7 893.3 L1075.8 279.7 L1147.9 445.7 L1220 527.9 L1292.1 572.8 L1364.2 607.8 L1436.3 640.7 L1508.4 662.1 L1580.5 687.3 L1652.6 711.9 L1724.7 729.5 L1796.8 749.2 L1868.9 788.7 L1941 823.2" fill="none" stroke="#000" stroke-width="5.2" stroke-linejoin="round"/>
<circle cx="1003.7" cy="893.3" r="15" fill="#000"/>
<circle cx="1075.8" cy="279.7" r="15" fill="#000"/>
<circle cx="1147.9" cy="445.7" r="15" fill="#000"/>
<circle cx="1220" cy="527.9" r="15" fill="#000"/>
<circle cx="1292.1" cy="572.8" r="15" fill="#000"/>
<circle cx="1364.2" cy="607.8" r="15" fill="#000"/>
<circle cx="1436.3" cy="640.7" r="15" fill="#000"/>
<circle cx="1508.4" cy="662.1" r="15" fill="#000"/>
<circle cx="1580.5" cy="687.3" r="15" fill="#000"/>
<circle cx="1652.6" cy="711.9" r="15" fill="#000"/>
<circle cx="1724.7" cy="729.5" r="15" fill="#000"/>
<circle cx="1796.8" cy="749.2" r="15" fill="#000"/>
<circle cx="1868.9" cy="788.7" r="15" fill="#000"/>
<circle cx="1941" cy="823.2" r="15" fill="#000"/>
<path d="M1075.8 327.9V390.3M1063.8 327.9H1087.8M1063.8 390.3H1087.8" stroke="#129bb4" stroke-width="5" fill="none"/>
<path d="M1147.9 399.1V436.9M1135.9 399.1H1159.9M1135.9 436.9H1159.9" stroke="#129bb4" stroke-width="5" fill="none"/>
<path d="M1220 501.6V532.2M1208 501.6H1232M1208 532.2H1232" stroke="#129bb4" stroke-width="5" fill="none"/>
<path d="M1292.1 557.4V583.7M1280.1 557.4H1304.1M1280.1 583.7H1304.1" stroke="#129bb4" stroke-width="5" fill="none"/>
<path d="M1364.2 613.3V627.6M1352.2 613.3H1376.2M1352.2 627.6H1376.2" stroke="#129bb4" stroke-width="5" fill="none"/>
<path d="M1436.3 655.5V668.7M1424.3 655.5H1448.3M1424.3 668.7H1448.3" stroke="#129bb4" stroke-width="5" fill="none"/>
<path d="M1508.4 679.6V691.7M1496.4 679.6H1520.4M1496.4 691.7H1520.4" stroke="#129bb4" stroke-width="5" fill="none"/>
<path d="M1580.5 707V718M1568.5 707H1592.5M1568.5 718H1592.5" stroke="#129bb4" stroke-width="5" fill="none"/>
<path d="M1652.6 732.8V742.6M1640.6 732.8H1664.6M1640.6 742.6H1664.6" stroke="#129bb4" stroke-width="5" fill="none"/>
<path d="M1724.7 751.4V760.2M1712.7 751.4H1736.7M1712.7 760.2H1736.7" stroke="#129bb4" stroke-width="5" fill="none"/>
<path d="M1796.8 775.5V784.3M1784.8 775.5H1808.8M1784.8 784.3H1808.8" stroke="#129bb4" stroke-width="5" fill="none"/>
<path d="M1868.9 809.5V817.1M1856.9 809.5H1880.9M1856.9 817.1H1880.9" stroke="#129bb4" stroke-width="5" fill="none"/>
<path d="M1941 839.1V845.6M1929 839.1H1953M1929 845.6H1953" stroke="#129bb4" stroke-width="5" fill="none"/>
<path d="M1003.7 893.3 L1075.8 359.1 L1147.9 418.8 L1220 516.9 L1292.1 570.6 L1364.2 620.4 L1436.3 662.1 L1508.4 685.6 L1580.5 712.5 L1652.6 737.7 L1724.7 755.8 L1796.8 779.9 L1868.9 813.3 L1941 842.3" fill="none" stroke="#129bb4" stroke-width="5.2" stroke-linejoin="round"/>
<circle cx="1003.7" cy="893.3" r="15" fill="#129bb4"/>
<circle cx="1075.8" cy="359.1" r="15" fill="#129bb4"/>
<circle cx="1147.9" cy="418.8" r="15" fill="#129bb4"/>
<circle cx="1220" cy="516.9" r="15" fill="#129bb4"/>
<circle cx="1292.1" cy="570.6" r="15" fill="#129bb4"/>
<circle cx="1364.2" cy="620.4" r="15" fill="#129bb4"/>
<circle cx="1436.3" cy="662.1" r="15" fill="#129bb4"/>
<circle cx="1508.4" cy="685.6" r="15" fill="#129bb4"/>
<circle cx="1580.5" cy="712.5" r="15" fill="#129bb4"/>
<circle cx="1652.6" cy="737.7" r="15" fill="#129bb4"/>
<circle cx="1724.7" cy="755.8" r="15" fill="#129bb4"/>
<circle cx="1796.8" cy="779.9" r="15" fill="#129bb4"/>
<circle cx="1868.9" cy="813.3" r="15" fill="#129bb4"/>
<circle cx="1941" cy="842.3" r="15" fill="#129bb4"/>
<circle cx="1824" cy="246.4" r="11.1" fill="#fff" stroke="#000" stroke-width="6.2"/>
<text x="1851" y="256.9" class="lg">LAGB</text>
<circle cx="1824" cy="295" r="14.2" fill="#000"/>
<text x="1851" y="305.5" class="lg">RYGB</text>
<circle cx="1824" cy="342.3" r="14.2" fill="#129bb4"/>
<text x="1851" y="352.8" class="lg">SG</text></g>
<g id="chart2"><path d="M936 1829.2V1134.5H2001V1829.2" fill="none" stroke="#000" stroke-width="5.4"/>
<path d="M911 1829.2H2003.7" stroke="#000" stroke-width="5.6"/>
<path d="M911 1829.2H936" stroke="#000" stroke-width="5.4"/>
<text x="906.5" y="1842.7" text-anchor="end" class="tk">0.0</text>
<path d="M911 1722.2H936" stroke="#000" stroke-width="5.4"/>
<text x="906.5" y="1735.7" text-anchor="end" class="tk">0.2</text>
<path d="M911 1615.2H936" stroke="#000" stroke-width="5.4"/>
<text x="906.5" y="1628.7" text-anchor="end" class="tk">0.4</text>
<path d="M911 1508.2H936" stroke="#000" stroke-width="5.4"/>
<text x="906.5" y="1521.7" text-anchor="end" class="tk">0.6</text>
<path d="M911 1401.2H936" stroke="#000" stroke-width="5.4"/>
<text x="906.5" y="1414.7" text-anchor="end" class="tk">0.8</text>
<path d="M911 1294.2H936" stroke="#000" stroke-width="5.4"/>
<text x="906.5" y="1307.7" text-anchor="end" class="tk">1.0</text>
<path d="M911 1187.2H936" stroke="#000" stroke-width="5.4"/>
<text x="906.5" y="1200.7" text-anchor="end" class="tk">1.2</text>
<path d="M1007.7 1829.2V1853.5" stroke="#000" stroke-width="5.4"/>
<text x="1007.7" y="1893.5" text-anchor="middle" class="tk">0</text>
<path d="M1079.7 1829.2V1853.5" stroke="#000" stroke-width="5.4"/>
<text x="1079.7" y="1893.5" text-anchor="middle" class="tk">15</text>
<path d="M1151.6 1829.2V1853.5" stroke="#000" stroke-width="5.4"/>
<text x="1151.6" y="1893.5" text-anchor="middle" class="tk">25</text>
<path d="M1223.6 1829.2V1853.5" stroke="#000" stroke-width="5.4"/>
<text x="1223.6" y="1893.5" text-anchor="middle" class="tk">35</text>
<path d="M1295.5 1829.2V1853.5" stroke="#000" stroke-width="5.4"/>
<text x="1295.5" y="1893.5" text-anchor="middle" class="tk">45</text>
<path d="M1367.5 1829.2V1853.5" stroke="#000" stroke-width="5.4"/>
<text x="1367.5" y="1893.5" text-anchor="middle" class="tk">60</text>
<path d="M1439.4 1829.2V1853.5" stroke="#000" stroke-width="5.4"/>
<text x="1439.4" y="1893.5" text-anchor="middle" class="tk">75</text>
<path d="M1511.4 1829.2V1853.5" stroke="#000" stroke-width="5.4"/>
<text x="1511.4" y="1893.5" text-anchor="middle" class="tk">90</text>
<path d="M1583.3 1829.2V1853.5" stroke="#000" stroke-width="5.4"/>
<text x="1583.3" y="1893.5" text-anchor="middle" class="tk">105</text>
<path d="M1655.2 1829.2V1853.5" stroke="#000" stroke-width="5.4"/>
<text x="1655.2" y="1893.5" text-anchor="middle" class="tk">120</text>
<path d="M1727.2 1829.2V1853.5" stroke="#000" stroke-width="5.4"/>
<text x="1727.2" y="1893.5" text-anchor="middle" class="tk">135</text>
<path d="M1799.2 1829.2V1853.5" stroke="#000" stroke-width="5.4"/>
<text x="1799.2" y="1893.5" text-anchor="middle" class="tk">150</text>
<path d="M1871.1 1829.2V1853.5" stroke="#000" stroke-width="5.4"/>
<text x="1871.1" y="1893.5" text-anchor="middle" class="tk">180</text>
<path d="M1943.1 1829.2V1853.5" stroke="#000" stroke-width="5.4"/>
<text x="1943.1" y="1893.5" text-anchor="middle" class="tk">210</text>
<text x="1470.5" y="1958.2" text-anchor="middle" class="ax" style="font-size:45.3px">Time from Start of Drinking, min</text>
<text transform="translate(824 1481.8) rotate(-90)" x="0" y="0" text-anchor="middle" class="ax" style="font-size:45.3px">BAC, g/L</text>
<rect x="1014.5" y="1792" width="28.2" height="33.8" fill="#d6d6d6"/>
<path d="M1049.5 1792.5L1086.9 1774.4" stroke="#666" stroke-width="6.5"/>
<path d="M1108.5 1764L1090.7 1787L1079.4 1763.6Z" fill="#666"/>
<text x="1116" y="1773.6" class="dr">Drink</text>
<path d="M1079.7 1579.4V1667.6M1067.7 1579.4H1091.7M1067.7 1667.6H1091.7" stroke="#000" stroke-width="5" fill="none"/>
<path d="M1151.6 1480.9V1546.7M1139.6 1480.9H1163.6M1139.6 1546.7H1163.6" stroke="#000" stroke-width="5" fill="none"/>
<path d="M1223.6 1504.5V1542.4M1211.6 1504.5H1235.6M1211.6 1542.4H1235.6" stroke="#000" stroke-width="5" fill="none"/>
<path d="M1295.5 1530.1V1568.7M1283.5 1530.1H1307.5M1283.5 1568.7H1307.5" stroke="#000" stroke-width="5" fill="none"/>
<path d="M1367.5 1560.1V1597.5M1355.5 1560.1H1379.5M1355.5 1597.5H1379.5" stroke="#000" stroke-width="5" fill="none"/>
<path d="M1439.4 1601.3V1631.2M1427.4 1601.3H1451.4M1427.4 1631.2H1451.4" stroke="#000" stroke-width="5" fill="none"/>
<path d="M1511.4 1635.5V1663.4M1499.4 1635.5H1523.4M1499.4 1663.4H1523.4" stroke="#000" stroke-width="5" fill="none"/>
<path d="M1583.3 1661.7V1689.6M1571.3 1661.7H1595.3M1571.3 1689.6H1595.3" stroke="#000" stroke-width="5" fill="none"/>
<path d="M1655.2 1685.8V1716.9M1643.2 1685.8H1667.2M1643.2 1716.9H1667.2" stroke="#000" stroke-width="5" fill="none"/>
<path d="M1727.2 1707.2V1738.2M1715.2 1707.2H1739.2M1715.2 1738.2H1739.2" stroke="#000" stroke-width="5" fill="none"/>
<path d="M1799.2 1729.7V1756.4M1787.2 1729.7H1811.2M1787.2 1756.4H1811.2" stroke="#000" stroke-width="5" fill="none"/>
<path d="M1871.1 1771.4V1784.3M1859.1 1771.4H1883.1M1859.1 1784.3H1883.1" stroke="#000" stroke-width="5" fill="none"/>
<path d="M1943.1 1798.2V1806.7M1931.1 1798.2H1955.1M1931.1 1806.7H1955.1" stroke="#000" stroke-width="5" fill="none"/>
<path d="M1007.7 1829.2 L1079.7 1623.2 L1151.6 1513 L1223.6 1517.3 L1295.5 1549.4 L1367.5 1578.8 L1439.4 1616.3 L1511.4 1649.4 L1583.3 1675.7 L1655.2 1701.3 L1727.2 1722.7 L1799.2 1743.1 L1871.1 1777.8 L1943.1 1802.5" fill="none" stroke="#000" stroke-width="5.2" stroke-linejoin="round"/>
<circle cx="1007.7" cy="1829.2" r="11.7" fill="#fff" stroke="#000" stroke-width="6.6"/>
<circle cx="1079.7" cy="1623.2" r="11.7" fill="#fff" stroke="#000" stroke-width="6.6"/>
<circle cx="1151.6" cy="1513" r="11.7" fill="#fff" stroke="#000" stroke-width="6.6"/>
<circle cx="1223.6" cy="1517.3" r="11.7" fill="#fff" stroke="#000" stroke-width="6.6"/>
<circle cx="1295.5" cy="1549.4" r="11.7" fill="#fff" stroke="#000" stroke-width="6.6"/>
<circle cx="1367.5" cy="1578.8" r="11.7" fill="#fff" stroke="#000" stroke-width="6.6"/>
<circle cx="1439.4" cy="1616.3" r="11.7" fill="#fff" stroke="#000" stroke-width="6.6"/>
<circle cx="1511.4" cy="1649.4" r="11.7" fill="#fff" stroke="#000" stroke-width="6.6"/>
<circle cx="1583.3" cy="1675.7" r="11.7" fill="#fff" stroke="#000" stroke-width="6.6"/>
<circle cx="1655.2" cy="1701.3" r="11.7" fill="#fff" stroke="#000" stroke-width="6.6"/>
<circle cx="1727.2" cy="1722.7" r="11.7" fill="#fff" stroke="#000" stroke-width="6.6"/>
<circle cx="1799.2" cy="1743.1" r="11.7" fill="#fff" stroke="#000" stroke-width="6.6"/>
<circle cx="1871.1" cy="1777.8" r="11.7" fill="#fff" stroke="#000" stroke-width="6.6"/>
<circle cx="1943.1" cy="1802.5" r="11.7" fill="#fff" stroke="#000" stroke-width="6.6"/>
<path d="M1079.7 1179.2V1271.2M1067.7 1179.2H1091.7M1067.7 1271.2H1091.7" stroke="#000" stroke-width="5" fill="none"/>
<path d="M1151.6 1370.2V1438.7M1139.6 1370.2H1163.6M1139.6 1438.7H1163.6" stroke="#000" stroke-width="5" fill="none"/>
<path d="M1223.6 1465.4V1493.2M1211.6 1465.4H1235.6M1211.6 1493.2H1235.6" stroke="#000" stroke-width="5" fill="none"/>
<path d="M1295.5 1507.1V1536M1283.5 1507.1H1307.5M1283.5 1536H1307.5" stroke="#000" stroke-width="5" fill="none"/>
<path d="M1367.5 1539.2V1571.3M1355.5 1539.2H1379.5M1355.5 1571.3H1379.5" stroke="#000" stroke-width="5" fill="none"/>
<path d="M1439.4 1576.7V1610.9M1427.4 1576.7H1451.4M1427.4 1610.9H1451.4" stroke="#000" stroke-width="5" fill="none"/>
<path d="M1511.4 1591.7V1621.6M1499.4 1591.7H1523.4M1499.4 1621.6H1523.4" stroke="#000" stroke-width="5" fill="none"/>
<path d="M1583.3 1619.5V1645.2M1571.3 1619.5H1595.3M1571.3 1645.2H1595.3" stroke="#000" stroke-width="5" fill="none"/>
<path d="M1655.2 1646.2V1667.6M1643.2 1646.2H1667.2M1643.2 1667.6H1667.2" stroke="#000" stroke-width="5" fill="none"/>
<path d="M1727.2 1660.1V1684.8M1715.2 1660.1H1739.2M1715.2 1684.8H1739.2" stroke="#000" stroke-width="5" fill="none"/>
<path d="M1799.2 1680.5V1710.4M1787.2 1680.5H1811.2M1787.2 1710.4H1811.2" stroke="#000" stroke-width="5" fill="none"/>
<path d="M1871.1 1724.3V1749M1859.1 1724.3H1883.1M1859.1 1749H1883.1" stroke="#000" stroke-width="5" fill="none"/>
<path d="M1943.1 1762.9V1773.6M1931.1 1762.9H1955.1M1931.1 1773.6H1955.1" stroke="#000" stroke-width="5" fill="none"/>
<path d="M1007.7 1829.2 L1079.7 1225.2 L1151.6 1404.4 L1223.6 1479.3 L1295.5 1521.6 L1367.5 1555.3 L1439.4 1593.8 L1511.4 1606.6 L1583.3 1632.3 L1655.2 1656.9 L1727.2 1672.4 L1799.2 1695.5 L1871.1 1736.6 L1943.1 1768.2" fill="none" stroke="#000" stroke-width="5.2" stroke-linejoin="round"/>
<circle cx="1007.7" cy="1829.2" r="15" fill="#000"/>
<circle cx="1079.7" cy="1225.2" r="15" fill="#000"/>
<circle cx="1151.6" cy="1404.4" r="15" fill="#000"/>
<circle cx="1223.6" cy="1479.3" r="15" fill="#000"/>
<circle cx="1295.5" cy="1521.6" r="15" fill="#000"/>
<circle cx="1367.5" cy="1555.3" r="15" fill="#000"/>
<circle cx="1439.4" cy="1593.8" r="15" fill="#000"/>
<circle cx="1511.4" cy="1606.6" r="15" fill="#000"/>
<circle cx="1583.3" cy="1632.3" r="15" fill="#000"/>
<circle cx="1655.2" cy="1656.9" r="15" fill="#000"/>
<circle cx="1727.2" cy="1672.4" r="15" fill="#000"/>
<circle cx="1799.2" cy="1695.5" r="15" fill="#000"/>
<circle cx="1871.1" cy="1736.6" r="15" fill="#000"/>
<circle cx="1943.1" cy="1768.2" r="15" fill="#000"/>
<path d="M1079.7 1278.7V1358.4M1067.7 1278.7H1091.7M1067.7 1358.4H1091.7" stroke="#129bb4" stroke-width="5" fill="none"/>
<path d="M1151.6 1325.2V1386.2M1139.6 1325.2H1163.6M1139.6 1386.2H1163.6" stroke="#129bb4" stroke-width="5" fill="none"/>
<path d="M1223.6 1429.6V1475M1211.6 1429.6H1235.6M1211.6 1475H1235.6" stroke="#129bb4" stroke-width="5" fill="none"/>
<path d="M1295.5 1493.8V1527.5M1283.5 1493.8H1307.5M1283.5 1527.5H1307.5" stroke="#129bb4" stroke-width="5" fill="none"/>
<path d="M1367.5 1538.7V1575.1M1355.5 1538.7H1379.5M1355.5 1575.1H1379.5" stroke="#129bb4" stroke-width="5" fill="none"/>
<path d="M1439.4 1584.2V1615.2M1427.4 1584.2H1451.4M1427.4 1615.2H1451.4" stroke="#129bb4" stroke-width="5" fill="none"/>
<path d="M1511.4 1607.7V1637.1M1499.4 1607.7H1523.4M1499.4 1637.1H1523.4" stroke="#129bb4" stroke-width="5" fill="none"/>
<path d="M1583.3 1637.1V1667.1M1571.3 1637.1H1595.3M1571.3 1667.1H1595.3" stroke="#129bb4" stroke-width="5" fill="none"/>
<path d="M1655.2 1661.7V1691.7M1643.2 1661.7H1667.2M1643.2 1691.7H1667.2" stroke="#129bb4" stroke-width="5" fill="none"/>
<path d="M1727.2 1683.1V1711M1715.2 1683.1H1739.2M1715.2 1711H1739.2" stroke="#129bb4" stroke-width="5" fill="none"/>
<path d="M1799.2 1707.8V1734M1787.2 1707.8H1811.2M1787.2 1734H1811.2" stroke="#129bb4" stroke-width="5" fill="none"/>
<path d="M1871.1 1744.1V1757M1859.1 1744.1H1883.1M1859.1 1757H1883.1" stroke="#129bb4" stroke-width="5" fill="none"/>
<path d="M1943.1 1775.2V1783.7M1931.1 1775.2H1955.1M1931.1 1783.7H1955.1" stroke="#129bb4" stroke-width="5" fill="none"/>
<path d="M1007.7 1829.2 L1079.7 1319.3 L1151.6 1356.8 L1223.6 1452 L1295.5 1510.3 L1367.5 1558 L1439.4 1599.2 L1511.4 1622.7 L1583.3 1652.7 L1655.2 1676.7 L1727.2 1697.1 L1799.2 1721.1 L1871.1 1750.6 L1943.1 1779.4" fill="none" stroke="#129bb4" stroke-width="5.2" stroke-linejoin="round"/>
<circle cx="1007.7" cy="1829.2" r="15" fill="#129bb4"/>
<circle cx="1079.7" cy="1319.3" r="15" fill="#129bb4"/>
<circle cx="1151.6" cy="1356.8" r="15" fill="#129bb4"/>
<circle cx="1223.6" cy="1452" r="15" fill="#129bb4"/>
<circle cx="1295.5" cy="1510.3" r="15" fill="#129bb4"/>
<circle cx="1367.5" cy="1558" r="15" fill="#129bb4"/>
<circle cx="1439.4" cy="1599.2" r="15" fill="#129bb4"/>
<circle cx="1511.4" cy="1622.7" r="15" fill="#129bb4"/>
<circle cx="1583.3" cy="1652.7" r="15" fill="#129bb4"/>
<circle cx="1655.2" cy="1676.7" r="15" fill="#129bb4"/>
<circle cx="1727.2" cy="1697.1" r="15" fill="#129bb4"/>
<circle cx="1799.2" cy="1721.1" r="15" fill="#129bb4"/>
<circle cx="1871.1" cy="1750.6" r="15" fill="#129bb4"/>
<circle cx="1943.1" cy="1779.4" r="15" fill="#129bb4"/>
<circle cx="1738.1" cy="1185.6" r="11.1" fill="#fff" stroke="#000" stroke-width="6.2"/>
<text x="1765" y="1196.1" class="lg">Pre-surgery</text>
<circle cx="1738.1" cy="1233" r="14.2" fill="#000"/>
<text x="1765" y="1243.5" class="lg">RYGB</text>
<circle cx="1738.1" cy="1279.3" r="14.2" fill="#129bb4"/>
<text x="1765" y="1289.8" class="lg">SG</text></g>
</svg>
</body></html>
